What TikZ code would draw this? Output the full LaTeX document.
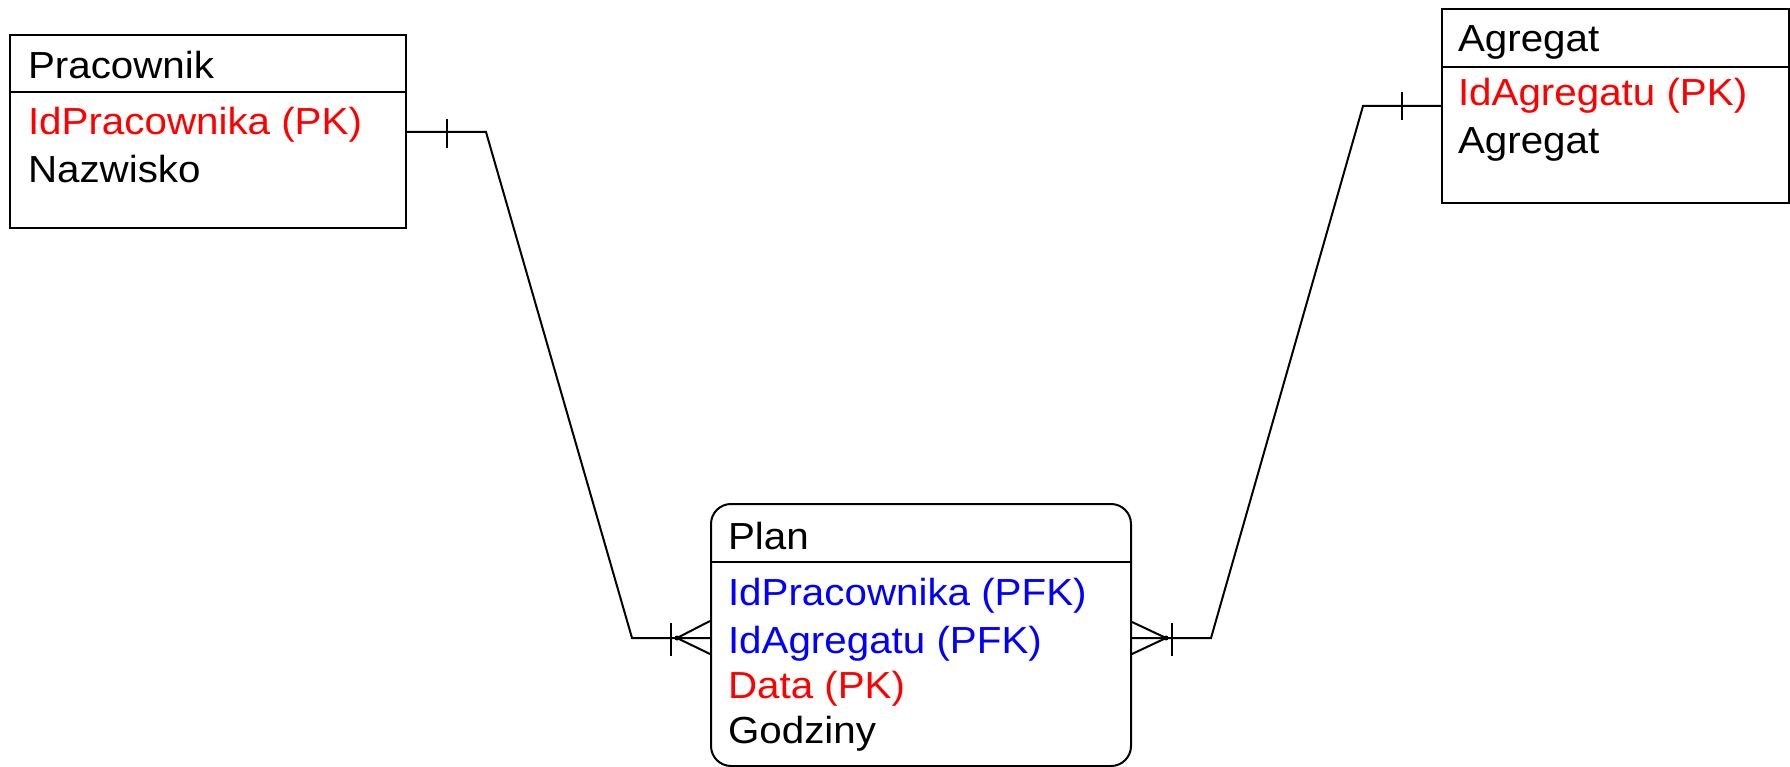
\documentclass[tikz,border=0pt]{standalone}
\usepackage{fontspec}
\setmainfont{Liberation Sans}[FakeStretch=1.07]
\begin{document}
\begin{tikzpicture}[x=1pt,y=-1pt,line width=2pt,
  box/.style={draw,line width=2pt,inner sep=0pt,anchor=north west},
  attr/.style={anchor=base west,inner sep=0pt,font=\fontsize{37.7}{40}\selectfont},
  pk/.style={attr,text=red},
  fk/.style={attr,text=blue}]
\useasboundingbox (0,0) rectangle (1790,767);
% entity boxes
\node[box,minimum width=396pt,minimum height=193pt] (prac) at (9,34) {};
\node[box,minimum width=347pt,minimum height=194pt] (agr) at (1441,8) {};
\node[box,rounded corners=20pt,minimum width=420pt,minimum height=262pt] (plan) at (710,503) {};
% header separators
\draw (prac.west |- 0,92) -- (prac.east |- 0,92);
\draw (agr.west |- 0,67) -- (agr.east |- 0,67);
\draw (plan.west |- 0,562) -- (plan.east |- 0,562);
% texts
\node[attr] (pracT) at (27,79) {Pracownik};
\node[pk] (pracA1) at (27,135) {IdPracownika (PK)};
\node[attr] (pracA2) at (27,183) {Nazwisko};
\node[attr] (agrT) at (1457,52) {Agregat};
\node[pk] (agrA1) at (1457,106) {IdAgregatu (PK)};
\node[attr] (agrA2) at (1457,154) {Agregat};
\node[attr] (planT) at (727,549) {Plan};
\node[fk] (planA1) at (727,605) {IdPracownika (PFK)};
\node[fk] (planA2) at (727,653) {IdAgregatu (PFK)};
\node[pk] (planA3) at (727,698) {Data (PK)};
\node[attr] (planA4) at (727,743) {Godziny};
% connector Pracownik - Plan
\coordinate (l1) at (486,132);
\coordinate (l2) at (632,638);
\coordinate (lf) at (677,638);
\draw (prac.east |- 0,132) -- (l1) -- (l2) -- (plan.west |- 0,638);
\draw (447,119) -- (447,148);
\draw (671,623) -- (671,656);
\draw (plan.west |- 0,621) -- (lf) -- (plan.west |- 0,654);
\fill (lf) circle (2.5);
% connector Agregat - Plan
\coordinate (r1) at (1363,106);
\coordinate (r2) at (1211,638);
\coordinate (rf) at (1166,638);
\draw (agr.west |- 0,106) -- (r1) -- (r2) -- (plan.east |- 0,638);
\draw (1402,92) -- (1402,120);
\draw (1172,623) -- (1172,656);
\draw (plan.east |- 0,622) -- (rf) -- (plan.east |- 0,654);
\fill (rf) circle (2.5);
\end{tikzpicture}
\end{document}
